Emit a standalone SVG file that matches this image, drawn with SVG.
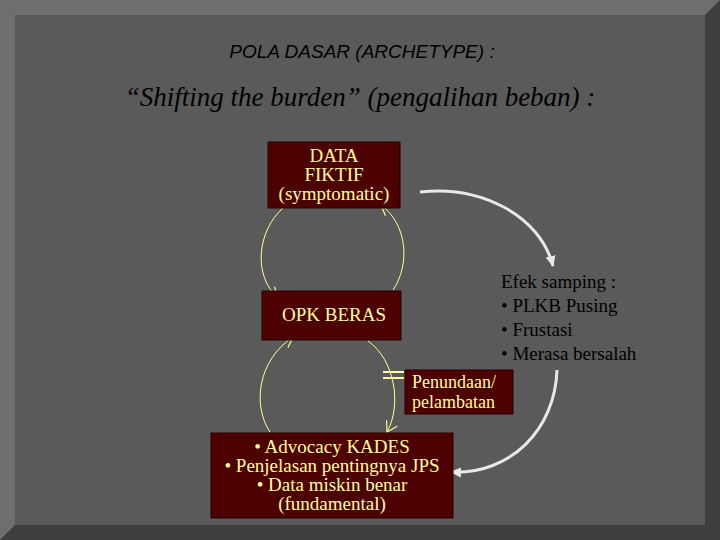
<svg xmlns="http://www.w3.org/2000/svg" width="720" height="540" viewBox="0 0 720 540">
<defs>
<marker id="ya" markerWidth="14" markerHeight="14" refX="11" refY="7" orient="auto" markerUnits="userSpaceOnUse"><path d="M1,1 L11,7 L1,13" fill="none" stroke="#ffff99" stroke-width="1.2"/></marker>
<marker id="wa" markerWidth="12" markerHeight="12" refX="10" refY="6" orient="auto" markerUnits="userSpaceOnUse"><path d="M0,1 L11,6 L0,11 Z" fill="#e8e8e8"/></marker>
</defs>
<style>
.box{fill:#4d0000;stroke:#2a0000;stroke-width:1}
.t{font-family:"Liberation Serif",serif;font-size:19px;fill:#ffff99;text-anchor:middle}
.s{text-anchor:start;font-size:18px}
.b{font-family:"Liberation Serif",serif;font-size:19px;fill:#000}
.y{fill:none;stroke:#ffff99;stroke-width:1}
.w{fill:none;stroke:#e8e8e8;stroke-width:3}
</style>
<rect width="720" height="540" fill="#5a5a5a"/>
<path d="M0,0 H720 L705,15 H15 V525 L0,540 Z" fill="#6e6e6e"/>
<path d="M720,0 V540 H0 L15,525 H705 V15 Z" fill="#3e3e3e"/>
<rect x="15" y="15" width="690" height="510" fill="#5a5a5a"/>
<text x="362" y="58" font-family="Liberation Sans,sans-serif" font-style="italic" font-size="19" text-anchor="middle" fill="#000">POLA DASAR (ARCHETYPE) :</text>
<text x="360" y="106" font-family="Liberation Serif,serif" font-style="italic" font-size="27" text-anchor="middle" fill="#000">“Shifting the burden” (pengalihan beban) :</text>
<g id="connectors">
<path class="y" d="M283,208 C258,230 252,275 278,298" marker-end="url(#ya)"/>
<path class="y" d="M393,290 C410,265 408,225 381,205" marker-end="url(#ya)"/>
<path class="y" d="M270,432 C252,405 258,360 293,337" marker-end="url(#ya)"/>
<path class="y" d="M368,341 C395,360 402,405 387,432" marker-end="url(#ya)"/>
<line x1="383" y1="372" x2="404" y2="372" stroke="#ffff99" stroke-width="2"/>
<line x1="383" y1="378" x2="404" y2="378" stroke="#ffff99" stroke-width="2"/>
<path class="w" d="M420,192 C480,185 540,215 553,266" marker-end="url(#wa)"/>
<path class="w" d="M557,370 C555,430 510,475 451,472" marker-end="url(#wa)"/>
</g>
<g id="n1"><rect class="box" x="268" y="142" width="132" height="66"/>
<text class="t" x="334" y="162">DATA</text><text class="t" x="334" y="181">FIKTIF</text><text class="t" x="334" y="200">(symptomatic)</text></g>
<g id="n2"><rect class="box" x="262" y="291" width="139" height="49"/>
<text class="t" x="334" y="321">OPK BERAS</text></g>
<g id="n3"><rect class="box" x="405" y="370" width="108" height="44"/>
<text class="t s" x="412" y="388">Penundaan/</text><text class="t s" x="412" y="408">pelambatan</text></g>
<g id="n4"><rect class="box" x="211" y="433" width="242" height="85"/>
<text class="t" x="332" y="453">• Advocacy KADES</text><text class="t" x="332" y="472">• Penjelasan pentingnya JPS</text><text class="t" x="332" y="491">• Data miskin benar</text><text class="t" x="332" y="510">(fundamental)</text></g>
<g id="n5">
<text class="b" x="501" y="288">Efek samping :</text>
<text class="b" x="501" y="312">• PLKB Pusing</text>
<text class="b" x="501" y="336">• Frustasi</text>
<text class="b" x="501" y="360">• Merasa bersalah</text></g>
</svg>
